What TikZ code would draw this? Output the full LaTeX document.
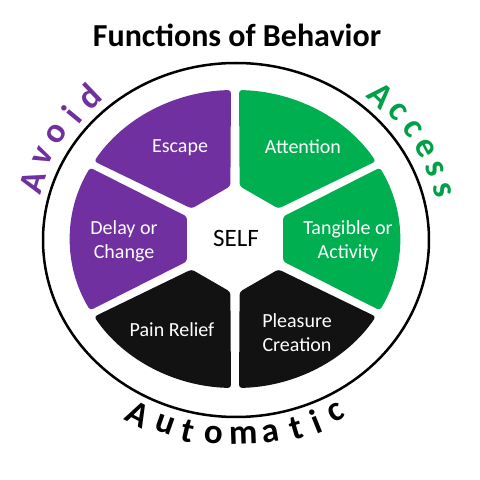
\documentclass[tikz,border=0pt]{standalone}
\usepackage{fontspec}
\setmainfont{Carlito}
\usetikzlibrary{calc}
\definecolor{AvoidPurple}{RGB}{112,48,160}
\definecolor{AccessGreen}{RGB}{0,176,80}
\definecolor{AccessText}{RGB}{0,160,72}
\definecolor{AutoBlack}{RGB}{18,18,18}
\begin{document}
\begin{tikzpicture}[x=1pt,y=1pt,
    wedge/.style={rounded corners=3pt},
    lbl/.style={font=\fontsize{20}{24}\selectfont,text=white,align=center,inner sep=0pt},
    arcletter/.style={font=\fontsize{35}{35}\selectfont\bfseries,inner sep=0pt}]

    % Canvas
    \fill[white] (0,0) rectangle (480,480);
    \useasboundingbox (0,0) rectangle (480,480);
    \coordinate (rim) at (236,240);
    \coordinate (pie) at (235,241);

    % Title
    \node[font=\fontsize{32}{32}\selectfont\bfseries,anchor=base,inner sep=0pt] (title) at (237,433) {Functions of Behavior};

    % Outer ring
    \draw[line width=2.5pt] (rim) ellipse[x radius=193,y radius=177];

    % Wedges
    \foreach \a/\col in {90/AvoidPurple, 150/AvoidPurple, 30/AccessGreen, -30/AccessGreen, -90/AutoBlack, 210/AutoBlack}{
      \fill[wedge,fill=\col] ($(pie)+(\a+5:53)$) -- ($(pie)+(\a+1.4:165 and 149)$)
        arc[start angle=\a+1.4,end angle=\a+58.6,x radius=165,y radius=149]
        -- ($(pie)+(\a+55:53)$) -- cycle;
    }

    % Labels
    \node[font=\fontsize{25}{25}\selectfont,anchor=base,inner sep=0pt] (self) at (236,233) {SELF};
    \node[lbl,anchor=base] (escape) at (180,327) {Escape};
    \node[lbl,anchor=base] (attention) at (303,326) {Attention};
    \node[lbl] (delay) at (124,238.5) {Delay or\\Change};
    \node[lbl] (tangible) at (348,238.5) {Tangible or\\Activity};
    \node[lbl,anchor=base] (pain) at (172,143) {Pain Relief};
    \node[lbl] (pleasure) at (297,147) {Pleasure\\Creation};

    % Ring words
    \foreach \ch/\t [count=\i] in {A/163, v/155, o/147.5, i/140.5, d/133.5}
      \node[arcletter,text=AvoidPurple,rotate=\t-90] (avoid\i) at ($(rim)+(\t:213 and 198)$) {\ch};
    \foreach \ch/\t [count=\i] in {A/47, c/40.5, c/34, e/27.5, s/21, s/14.5}
      \node[arcletter,text=AccessText,rotate=\t-90] (access\i) at ($(rim)+(\t:213 and 198)$) {\ch};
    \foreach \ch/\t [count=\i] in {A/242.5, u/250.5, t/257, o/264, m/272, a/279.5, t/286.5, i/292, c/298}
      \node[arcletter,text=black,rotate=\t+90] (auto\i) at ($(rim)+(\t:212 and 196)$) {\ch};
\end{tikzpicture}
\end{document}
